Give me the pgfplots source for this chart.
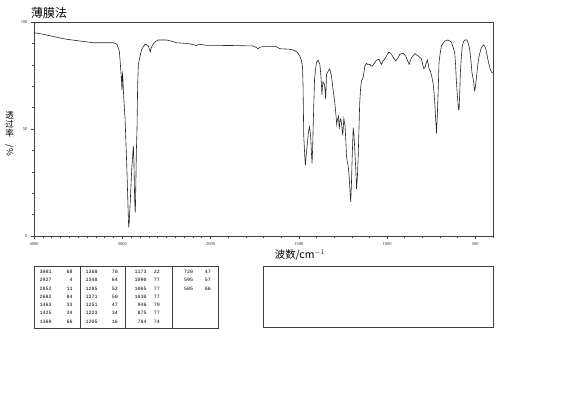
\documentclass[border=0pt]{standalone}
\usepackage{pgfplots}
\usepackage{pgfplotstable}
\pgfplotsset{compat=1.18}
\usepackage{fontspec}
\setmainfont{Liberation Serif}
\newfontfamily\cjk{Noto Sans CJK SC}
\newfontfamily\mono{Liberation Mono}

\pgfplotstableread{
nu T
4000 95.0
3900 94.3
3812 93.5
3700 92.5
3625 91.9
3475 91.1
3325 90.3
3200 90.3
3100 90.3
3062 89.6
3040 87.5
3032 85.7
3017 77.9
3008 72
3003 68
2999 76
2994 75
2985 66
2968 54.5
2950 34
2938 18
2930 7
2927 4
2922 6
2912 14
2893 31
2878 40
2874 42
2868 35
2860 18
2855 12
2852 11
2848 20
2840 40
2833 50
2826 70
2818 80
2807 82.5
2780 87.2
2743 89.6
2720 89.4
2705 88.8
2690 87
2682 86
2672 88
2650 89.6
2620 91
2593 91.6
2500 91.6
2440 91
2387 90.3
2275 90
2200 89.5
2162 89
2125 89.6
2050 89.1
2000 89.1
1873 89
1760 88.8
1745 88.3
1731 87.5
1720 88.2
1703 88.5
1627 88.5
1608 87.5
1555 87.3
1532 86.9
1510 86
1494 84
1485 82
1479 79
1476 70
1472 46.7
1466 37
1463 33
1458 38
1453 42
1446 48
1440 51
1436 49
1432 45
1428 38
1425 34
1422 40
1419 50
1415 62
1411 73
1405 78
1400 81
1391 82.2
1381 80.2
1376 76
1372 71
1369 66
1366 70
1363 72
1360 71.7
1355 71
1351 68
1348 64
1345 71
1343 75.5
1334 77
1325 78
1315 74.8
1306 68.5
1296 62.3
1288 55
1285 52
1281 54.5
1275 56
1271 50
1266 54
1262 54.8
1256 51
1251 47
1245 54.8
1238 51.4
1234 45
1230 37.4
1226 35
1223 34
1218 31
1215 28
1210 21
1206 16
1202 24
1198 35.8
1192 50.6
1188 48
1185 43.6
1181 37
1177 31
1173 22
1168 28
1164 35.8
1160 48
1155 62.3
1150 69
1145 72.4
1136 74
1130 77
1126 79.4
1117 80.7
1108 80
1098 80.2
1090 79.5
1083 79.4
1070 81
1060 82.2
1045 82.6
1038 81
1032 80.2
1025 81.5
1019 82.2
1008 83.3
998 85
989 86
982 85.5
975 84.9
962 83
951 81.8
940 83
928 84.9
909 85.4
894 84.1
884 82
875 80.2
868 82
862 83.3
843 85.2
824 84.1
806 82.9
798 80
792 78.2
784 79
781 80.2
772 82.2
766 80
762 78.2
755 77.1
748 75
740 71.7
735 68
730 62.3
725 55
721 49.8
720 48
716 55
713 62.3
709 72
706 81
700 85
692 88.8
674 91.1
655 91.6
636 90.7
625 88
617 85.7
612 80
608 73.2
603 67
598 61.5
595 59
592 59.2
588 68
585 76.3
580 83
574 88.8
567 90.8
560 91.6
547 91.6
540 90
532 87.2
525 82
519 76.3
509 71.7
505 68
502 68.5
498 71
494 74
486 80
479 84.1
466 88
453 89.3
445 88.5
438 86.4
430 83
423 80.2
416 78
409 76.6
400 76.3
}\spec

\begin{document}
\begin{tikzpicture}
\useasboundingbox (0,0) rectangle (570bp,-418bp);
\begin{axis}[
  at={(34bp,-236bp)}, anchor=south west,
  scale only axis, width=459bp, height=214bp,
  xmin=0, xmax=5200, ymin=0, ymax=100,
  xtick={0,1000,2000,3000,4000,5000},
  xticklabels={4000,3000,2000,1500,1000,500},
  minor xtick={100,200,...,1900,2200,2400,...,5200},
  ytick={0,50,100},
  minor ytick={10,20,...,90},
  xtick pos=bottom, ytick pos=left,
  tick align=outside,
  major tick length=3bp, minor tick length=2bp,
  axis line style={black!75, line width=0.6bp},
  tick style={black!75, line width=0.5bp},
  /pgf/number format/assume math mode=true,
  ticklabel style={font=\fontsize{4.5}{5}\selectfont, text=black!80},
  xticklabel style={yshift=0.5bp},
  clip=false,
]
\addplot[black!85, line width=0.6bp] table[x expr={\thisrow{nu}>=2000 ? 4000-\thisrow{nu} : 6000-2*\thisrow{nu}}, y=T] {\spec};
\end{axis}
% title and labels
\node[anchor=west, inner sep=0] at (31bp,-12.5bp) {\cjk\fontsize{12}{14}\selectfont 薄膜法};
\node[anchor=center, inner sep=0] at (300bp,-255bp) {\cjk\fontsize{10.5}{12}\selectfont 波数/cm$^{-1}$};
\node[anchor=center, inner sep=0, align=center, font=\cjk\fontsize{8.5}{9}\selectfont] at (9.5bp,-134bp)
  {透\\[-0.3bp]过\\[-0.3bp]率\\[-0.3bp]\rotatebox{-90}{/\%}};
% peak table
\draw[black!75, line width=0.6bp] (34bp,-266bp) rectangle (218bp,-328bp);
\draw[black!75, line width=0.6bp] (80.3bp,-266bp) -- (80.3bp,-328bp);
\draw[black!75, line width=0.6bp] (125.3bp,-266bp) -- (125.3bp,-328bp);
\draw[black!75, line width=0.6bp] (172.7bp,-266bp) -- (172.7bp,-328bp);
\draw[black!75, line width=0.6bp] (263.5bp,-266.5bp) rectangle (493bp,-327.7bp);
\tikzset{tt/.style={anchor=east, inner sep=0, font=\mono\fontsize{5}{6}\selectfont}}
\foreach \w/\v [count=\i from 0] in {3001/68,2927/4,2852/11,2682/84,1463/33,1425/34,1369/66}{
  \node[tt] at ({51.7bp},{-271.7bp-8.33bp*\i}) {\w};
  \node[tt] at ({72.7bp},{-271.7bp-8.33bp*\i}) {\v};}
\foreach \w/\v [count=\i from 0] in {1368/70,1348/64,1285/52,1271/50,1251/47,1223/34,1205/16}{
  \node[tt] at ({97.7bp},{-271.7bp-8.33bp*\i}) {\w};
  \node[tt] at ({118bp},{-271.7bp-8.33bp*\i}) {\v};}
\foreach \w/\v [count=\i from 0] in {1173/22,1090/77,1065/77,1030/77,946/79,875/77,784/74}{
  \node[tt] at ({146.7bp},{-271.7bp-8.33bp*\i}) {\w};
  \node[tt] at ({160bp},{-271.7bp-8.33bp*\i}) {\v};}
\foreach \w/\v [count=\i from 0] in {720/47,595/57,505/66}{
  \node[tt] at ({193.3bp},{-271.7bp-8.33bp*\i}) {\w};
  \node[tt] at ({211bp},{-271.7bp-8.33bp*\i}) {\v};}
\end{tikzpicture}
\end{document}
